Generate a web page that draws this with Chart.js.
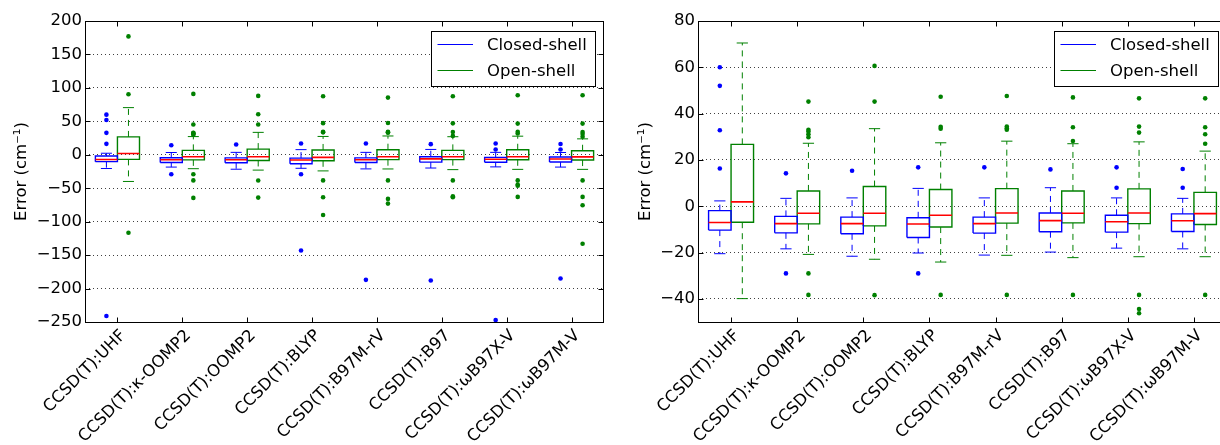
<!DOCTYPE html>
<html>
<head>
<meta charset="utf-8">
<script src="https://cdn.jsdelivr.net/npm/chart.js@4.4.1/dist/chart.umd.min.js"></script>
<style>
  html, body { margin: 0; padding: 0; background: #fff; overflow: hidden; width: 1220px; height: 445px; }
  #wrapFull { position: absolute; left: 0; top: 0; width: 610px; height: 445px; }
  #wrapZoom { position: absolute; left: 610px; top: 0; width: 625px; height: 445px; }
</style>
</head>
<body>
<div id="wrapFull"><canvas id="errFull" width="610" height="445"></canvas></div>
<div id="wrapZoom"><canvas id="errZoom" width="625" height="445"></canvas></div>
<script>
// Methods compared against the CCSD(T) reference
const categories = [
  'CCSD(T):UHF', 'CCSD(T):κ-OOMP2', 'CCSD(T):OOMP2', 'CCSD(T):BLYP',
  'CCSD(T):B97M-rV', 'CCSD(T):B97', 'CCSD(T):ωB97X-V', 'CCSD(T):ωB97M-V'
];
const seriesNames = ['Closed-shell', 'Open-shell'];

// Closed-shell error distributions (cm^-1)
const closedLow    = [-20.5, -18.4, -21.6, -20.2, -21.1, -19.8, -18.1, -18.4];
const closedQ1     = [-10.3, -11.5, -11.9, -13.5, -11.6, -11.0, -11.2, -10.9];
const closedMedian = [-7.0, -7.5, -7.5, -7.7, -7.5, -6.2, -6.7, -6.3];
const closedQ3     = [-1.9, -4.4, -4.7, -5.0, -4.7, -2.9, -3.9, -3.3];
const closedHigh   = [2.3, 3.4, 3.6, 7.7, 3.6, 8.0, 3.6, 3.4];
const closedFliers = [
  [60, 52, 32.8, 16.3, -241],
  [14.2, -29],
  [15.3],
  [16.8, -29, -143],
  [16.8, -187],
  [15.9, -188],
  [16.8, 8.0, -247],
  [16.1, 8.0, -185]
];

// Open-shell error distributions (cm^-1)
const openLow    = [-39.9, -20.8, -22.9, -24.1, -21.2, -22.2, -21.8, -21.8];
const openQ1     = [-6.9, -7.6, -8.5, -9.0, -7.3, -7.2, -7.5, -7.9];
const openMedian = [1.9, -3.0, -3.0, -3.9, -2.9, -3.0, -2.9, -3.2];
const openQ3     = [26.7, 6.6, 8.5, 7.2, 7.6, 6.6, 7.5, 6.0];
const openHigh   = [70.5, 27.2, 33.5, 27.4, 28.1, 27.0, 27.8, 23.8];
const openFliers = [
  [177, 90.5, -116.5],
  [91, 45.2, 33, 32.3, 31.1, 29.8, -29, -38.3, -64.5],
  [88, 60.6, 45.2, -38.4, -64],
  [87.5, 47.3, 34.3, 33.5, -38.3, -63.5, -90],
  [85.5, 47.6, 34.4, 33.7, 33, -38.3, -66, -73],
  [87.5, 47, 34.1, 28.2, -38.3, -62, -63.5],
  [89, 46.6, 34.4, 31.8, -38.3, -44.4, -46.2, -63],
  [89, 46.6, 34.1, 31.1, 27, -38.3, -63, -75.5, -133]
];

// Y-axis ticks for the full-range and the zoomed panel
const fullTicks = [-250, -200, -150, -100, -50, 0, 50, 100, 150, 200];
const zoomTicks = [-40, -20, 0, 20, 40, 60, 80];

const BLUE = '#0000ff', GREEN = '#008000', RED = '#ff0000';
const BOX_W = 0.34;               // box width as a fraction of a category
const FONT = "'DejaVu Sans', 'Liberation Sans', sans-serif";
const FS = 16.5;

Chart.defaults.font.family = FONT;
Chart.defaults.font.size = FS;
Chart.defaults.color = '#000';

// One series -> box outlines, whiskers, caps, medians and fliers
function seriesDatasets(st, color, side) {
  const boxes = [], whisk = [], caps = [], meds = [], pts = [];
  const gap = x => ({ x, y: null });
  categories.forEach((_, i) => {
    const x = i + side * BOX_W / 2;
    const x0 = x - BOX_W / 2, x1 = x + BOX_W / 2;
    boxes.push({x: x0, y: st.q1[i]}, {x: x1, y: st.q1[i]}, {x: x1, y: st.q3[i]},
               {x: x0, y: st.q3[i]}, {x: x0, y: st.q1[i]}, gap(x));
    whisk.push({x, y: st.q3[i]}, {x, y: st.hi[i]}, gap(x),
               {x, y: st.q1[i]}, {x, y: st.lo[i]}, gap(x));
    caps.push({x: x - BOX_W / 4, y: st.hi[i]}, {x: x + BOX_W / 4, y: st.hi[i]}, gap(x),
              {x: x - BOX_W / 4, y: st.lo[i]}, {x: x + BOX_W / 4, y: st.lo[i]}, gap(x));
    meds.push({x: x0, y: st.med[i]}, {x: x1, y: st.med[i]}, gap(x));
    st.fl[i].forEach(v => pts.push({x, y: v}));
  });
  const lineBase = { type: 'line', xAxisID: 'xl', yAxisID: 'y', pointRadius: 0,
    fill: false, tension: 0, spanGaps: false, borderWidth: 1, borderJoinStyle: 'miter' };
  return [
    Object.assign({}, lineBase, { label: st.name, data: boxes, borderColor: color, borderWidth: 1.4, order: 4 }),
    Object.assign({}, lineBase, { data: whisk, borderColor: color, borderDash: [6, 5], order: 3 }),
    Object.assign({}, lineBase, { data: caps, borderColor: color, order: 2 }),
    Object.assign({}, lineBase, { data: meds, borderColor: RED, borderWidth: 1.6, order: 0 }),
    { type: 'scatter', xAxisID: 'xl', yAxisID: 'y', data: pts, pointRadius: 2.3,
      pointBorderWidth: 0, backgroundColor: color, borderColor: color, order: 1 }
  ];
}

const closedStats = { name: seriesNames[0], lo: closedLow, q1: closedQ1, med: closedMedian,
  q3: closedQ3, hi: closedHigh, fl: closedFliers };
const openStats = { name: seriesNames[1], lo: openLow, q1: openQ1, med: openMedian,
  q3: openQ3, hi: openHigh, fl: openFliers };

const fmt = v => String(v).replace('-', '\u2212');

// Spines, inward tick marks and the boxed legend
const framePlugin = {
  id: 'frame',
  afterDatasetsDraw(chart) {
    const { ctx, chartArea: a, scales } = chart;
    ctx.save();
    ctx.strokeStyle = '#000';
    ctx.lineWidth = 1;
    ctx.setLineDash([]);
    const L = Math.round(a.left) + 0.5, R = Math.round(a.right) - 0.5;
    const T = Math.round(a.top) + 0.5, B = Math.round(a.bottom) + 0.5;
    ctx.strokeRect(L, T, R - L, B - T);
    const TL = 5;
    ctx.beginPath();
    scales.y.ticks.forEach(t => {
      const y = Math.round(scales.y.getPixelForValue(t.value)) + 0.5;
      ctx.moveTo(L, y); ctx.lineTo(L + TL, y);
      ctx.moveTo(R, y); ctx.lineTo(R - TL, y);
    });
    categories.forEach((_, i) => {
      const x = Math.round(scales.x.getPixelForTick(i)) + 0.5;
      ctx.moveTo(x, B); ctx.lineTo(x, B - TL);
      ctx.moveTo(x, T); ctx.lineTo(x, T + TL);
    });
    ctx.stroke();

    // legend
    const w = 164, h = 55;
    const lx = a.right - 9 - w, ly = a.top + 9.5;
    ctx.fillStyle = '#fff';
    ctx.fillRect(lx, ly, w, h);
    ctx.strokeRect(Math.round(lx) + 0.5, Math.round(ly) + 0.5, w, h);
    ctx.font = FS + 'px ' + FONT;
    ctx.textBaseline = 'middle';
    ctx.textAlign = 'left';
    [BLUE, GREEN].forEach((c, k) => {
      const yy = Math.round(ly + 13.5 + k * 26) + 0.5;
      ctx.strokeStyle = c;
      ctx.beginPath(); ctx.moveTo(lx + 6.5, yy); ctx.lineTo(lx + 42, yy); ctx.stroke();
      ctx.fillStyle = '#000';
      ctx.fillText(seriesNames[k], lx + 56, yy + 1);
    });
    ctx.restore();
  }
};

function makeChart(id, yMin, yMax, ticks, yWidth, padRight, titlePad) {
  return new Chart(document.getElementById(id), {
    type: 'line',
    data: { labels: categories, datasets: [
      ...seriesDatasets(closedStats, BLUE, -1),
      ...seriesDatasets(openStats, GREEN, 1)
    ] },
    options: {
      responsive: false, animation: false, events: [],
      layout: { padding: { top: 21, right: padRight, left: 0, bottom: 0 } },
      plugins: { legend: { display: false }, tooltip: { enabled: false } },
      scales: {
        x: {
          type: 'category', labels: categories, offset: true, position: 'bottom',
          grid: { display: false, drawTicks: false }, border: { display: false },
          ticks: { maxRotation: 45, minRotation: 45, autoSkip: false, padding: 4,
                   labelOffset: 6, color: '#000' },
          afterFit: s => { s.height = 123; }
        },
        xl: {
          type: 'linear', display: false, offset: false, position: 'bottom',
          min: -0.5, max: categories.length - 0.5
        },
        y: {
          type: 'linear', min: yMin, max: yMax, position: 'left',
          afterBuildTicks: s => { s.ticks = ticks.map(v => ({ value: v })); },
          grid: { color: 'rgba(0,0,0,0.75)', lineWidth: 1, drawTicks: false },
          border: { display: false, dash: [1, 3] },
          ticks: { padding: 3, color: '#000', callback: v => fmt(v) },
          title: { display: true, text: 'Error (cm\u207B\u00B9)', color: '#000',
                   font: { size: FS }, padding: { top: titlePad, bottom: 0 } },
          afterFit: s => { s.width = yWidth; }
        }
      }
    },
    plugins: [framePlugin]
  });
}

makeChart('errFull', -250, 200, fullTicks, 85, 6, 12);
makeChart('errZoom', -50, 80, zoomTicks, 88, 8, 26);
</script>
</body>
</html>
